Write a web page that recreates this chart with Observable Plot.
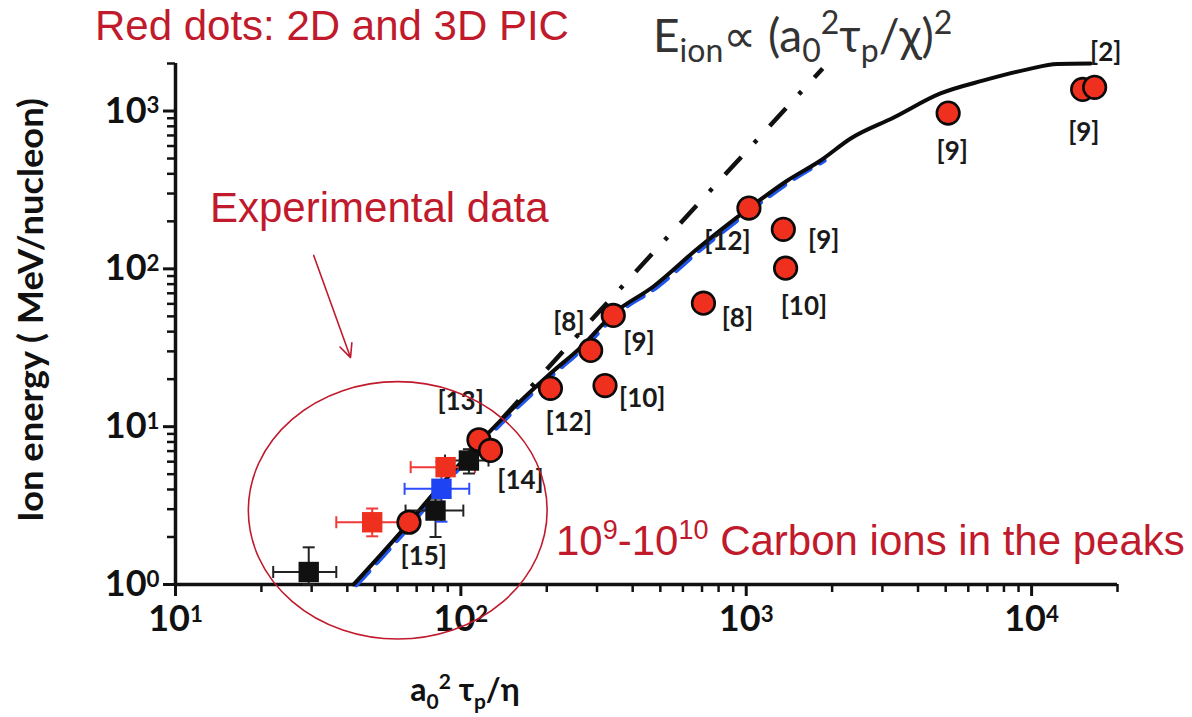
<!DOCTYPE html>
<html>
<head>
<meta charset="utf-8">
<script src="https://cdn.jsdelivr.net/npm/d3@7"></script>
<script src="https://cdn.jsdelivr.net/npm/@observablehq/plot@0.6"></script>
<style>
  html, body { margin: 0; padding: 0; background: #fff; }
  #chart { width: 1192px; height: 717px; }
</style>
</head>
<body>
<div id="chart"></div>
<script>
// 2D and 3D PIC simulation results (red circles): a0² τp/η  vs  ion energy (MeV/nucleon)
const picX = [15100, 16630, 5100, 1022, 1349, 1374, 708, 342, 285, 206, 320, 115.7, 127, 65.8];
const picY = [1371, 1412, 970, 242.6, 178, 101, 60.6, 50.7, 30.4, 17.5, 18.2, 8.26, 7.07, 2.48];

// experimental points (squares) with horizontal and vertical error bars
const expX   = [29.3, 48.9, 81.5, 85.5, 88.4, 106.7];
const expY   = [1.2, 2.48, 2.94, 4.04, 5.54, 6.1];
const expXLo = [22, 36.6, 64, 63.5, 66.7, 88];
const expXHi = [36.6, 61, 102, 107, 112, 125];
const expYLo = [1.0, 2.02, 2.0, 2.5, 4.9, 5.05];
const expYHi = [1.72, 3.03, 3.5, 6.0, 6.3, 7.2];
const expSet = ["A", "B", "A", "C", "B", "A"];

// model curve (solid black) and its companion (dashed blue)
const fitX = [42.1, 61.5, 80.2, 141, 206, 263, 343, 473, 676, 1019, 1395, 1823, 2323, 3289, 4795, 6792, 9680, 12300, 16100];
const fitY = [1.0, 2.14, 3.77, 11.4, 21.7, 31.8, 52.2, 77.3, 134.7, 241, 363, 486, 670, 910, 1292, 1563, 1835, 1985, 2000];
const blueX = [43, 63, 82, 144, 211, 269, 352, 486, 695, 1048, 1432, 1870];
const blueY = [1.0, 2.14, 3.77, 11.4, 21.7, 31.8, 52.2, 77.3, 134.7, 241, 363, 486];

// quadratic scaling E_ion ∝ (a0² τp / χ)² (dash-dot)
const scalingX = [140, 292, 1853];
const scalingY = [11.3, 49.2, 1862];

// reference tags next to the points
const refText = ["[2]", "[9]", "[9]", "[12]", "[9]", "[10]", "[8]", "[8]", "[9]", "[10]", "[12]", "[13]", "[14]", "[15]"];
const refX = [18200, 15240, 5271, 859, 1870, 1593, 931, 239, 421, 432, 239, 99.8, 161.8, 74.1];
const refY = [2350, 731, 549, 147.6, 151.4, 57.2, 48.3, 45.9, 34.3, 15.0, 10.6, 14.3, 4.56, 1.49];

// axis ticks
const xMajor = [10, 100, 1000, 10000];
const xMinor = [20, 30, 40, 50, 60, 70, 80, 90, 200, 300, 400, 500, 600, 700, 800, 900,
                2000, 3000, 4000, 5000, 6000, 7000, 8000, 9000, 20000];
const yMajor = [1, 10, 100, 1000];
const yMinor = [2, 3, 4, 5, 6, 7, 8, 9, 20, 30, 40, 50, 60, 70, 80, 90,
                200, 300, 400, 500, 600, 700, 800, 900, 2000];

// annotations: ellipse bounds around the experimental data and the arrow pointing at it
const circleX = [18.07, 201.4];
const circleY = [0.448, 19.14];
const arrowX = [30.5, 41.05];
const arrowY = [121.6, 27.4];

const setColor = {A: "#111111", B: "#f0301f", C: "#1d43f2"};
const barColor = {A: "#222222", B: "#f03a3a", C: "#2b4cff"};
const annotRed = "#c01a2c";

const exp = expX.map((x, i) => ({
  x, y: expY[i], xlo: expXLo[i], xhi: expXHi[i], ylo: expYLo[i], yhi: expYHi[i], set: expSet[i]
}));
const hCaps = exp.flatMap(d => [{x: d.xlo, y: d.y, set: d.set}, {x: d.xhi, y: d.y, set: d.set}]);
const vCaps = exp.flatMap(d => [{x: d.x, y: d.ylo, set: d.set}, {x: d.x, y: d.yhi, set: d.set}]);
const pic = picX.map((x, i) => ({x, y: picY[i]}));
const fit = fitX.map((x, i) => ({x, y: fitY[i]}));
const blue = blueX.map((x, i) => ({x, y: blueY[i]}));
const scaling = scalingX.map((x, i) => ({x, y: scalingY[i]}));
const refs = refText.map((t, i) => ({t, x: refX[i], y: refY[i]}));

// symbols for error bar caps
const vCap = {draw(ctx, size) { const h = Math.sqrt(size / Math.PI); ctx.moveTo(0, -h); ctx.lineTo(0, h); }};
const hCap = {draw(ctx, size) { const h = Math.sqrt(size / Math.PI); ctx.moveTo(-h, 0); ctx.lineTo(h, 0); }};

const pow = d => "10|" + Math.round(Math.log10(d));

const plot = Plot.plot({
  width: 1192,
  height: 717,
  marginLeft: 175,
  marginRight: 75,
  marginTop: 63,
  marginBottom: 133,
  x: {type: "log", domain: [10, 20000], label: null},
  y: {type: "log", domain: [1, 2000], label: null},
  style: {fontFamily: "Lato, 'Open Sans', sans-serif", background: "#fff", color: "#111", overflow: "visible"},
  marks: [
    Plot.axisX({ticks: xMinor, tickSize: 8, strokeWidth: 2.5, tickFormat: () => "", label: null}),
    Plot.axisX({ticks: xMajor, tickSize: 12, strokeWidth: 3, tickPadding: 9, tickFormat: pow,
                fontSize: 36, fontWeight: "bold", label: null}),
    Plot.axisY({ticks: yMinor, tickSize: 8, strokeWidth: 2.5, tickFormat: () => "", label: null}),
    Plot.axisY({ticks: yMajor, tickSize: 12, strokeWidth: 3, tickPadding: 4, tickFormat: pow,
                fontSize: 36, fontWeight: "bold", label: null}),
    Plot.ruleY([1], {stroke: "#111", strokeWidth: 3.5}),
    Plot.ruleX([10], {stroke: "#111", strokeWidth: 3.5}),

    Plot.line(scaling, {x: "x", y: "y", stroke: "#111", strokeWidth: 4.5,
                        strokeDasharray: "24,19,4,19", strokeLinecap: "butt"}),
    Plot.line(blue, {x: "x", y: "y", stroke: "#1f55ea", strokeWidth: 5.5, strokeDasharray: "18,12", curve: "monotone-x"}),
    Plot.line(fit, {x: "x", y: "y", stroke: "#0b0b0b", strokeWidth: 4, curve: "monotone-x"}),

    Plot.ruleY(exp, {y: "y", x1: "xlo", x2: "xhi", stroke: d => barColor[d.set], strokeWidth: 2}),
    Plot.ruleX(exp, {x: "x", y1: "ylo", y2: "yhi", stroke: d => barColor[d.set], strokeWidth: 2}),
    Plot.dot(hCaps, {x: "x", y: "y", r: 6, symbol: vCap, fill: "none", stroke: d => barColor[d.set], strokeWidth: 2}),
    Plot.dot(vCaps, {x: "x", y: "y", r: 6, symbol: hCap, fill: "none", stroke: d => barColor[d.set], strokeWidth: 2}),
    Plot.dot(exp, {x: "x", y: "y", r: 11.5, symbol: "square", fill: d => setColor[d.set], stroke: "none"}),

    Plot.dot(pic, {x: "x", y: "y", r: 11.3, fill: "#f0301f", stroke: "#0b0b0b", strokeWidth: 2.6}),

    Plot.text(refs, {x: "x", y: "y", text: "t", fontSize: 26, fontWeight: "bold", fill: "#1a1a1a"}),

    Plot.arrow([0], {x1: () => arrowX[0], y1: () => arrowY[0], x2: () => arrowX[1], y2: () => arrowY[1],
                     stroke: annotRed, strokeWidth: 1.6, headLength: 14, headAngle: 50, insetEnd: 0})
  ]
});

document.getElementById("chart").append(plot);

const svg = d3.select(plot);
const sx = plot.scale("x"), sy = plot.scale("y");

// powers of ten as superscripts
svg.selectAll('[aria-label="x-axis tick label"] text, [aria-label="y-axis tick label"] text').each(function () {
  const s = this.textContent;
  if (!s.includes("|")) return;
  const [base, exp] = s.split("|");
  const t = d3.select(this).text(base).attr("font-weight", "bold");
  t.append("tspan").attr("dy", "-0.42em").attr("font-size", "0.62em").text(exp);
});

// rich text helper: parts are {t, size, shift} with shift measured down from the baseline
function richText(x, y, parts, attrs) {
  const t = svg.append("text").attr("x", x).attr("y", y).attr("text-anchor", "start");
  for (const k in attrs) t.attr(k, attrs[k]);
  let cur = 0;
  for (const p of parts) {
    const ts = t.append("tspan").text(p.t);
    const target = p.shift || 0;
    if (target !== cur) ts.attr("dy", target - cur);
    cur = target;
    if (p.size) ts.attr("font-size", p.size);
  }
  return t;
}

// ellipse around the experimental data
const ex0 = sx.apply(circleX[0]), ex1 = sx.apply(circleX[1]);
const ey0 = sy.apply(circleY[0]), ey1 = sy.apply(circleY[1]);
svg.append("ellipse")
  .attr("cx", (ex0 + ex1) / 2).attr("cy", (ey0 + ey1) / 2)
  .attr("rx", Math.abs(ex1 - ex0) / 2).attr("ry", Math.abs(ey1 - ey0) / 2)
  .attr("fill", "none").attr("stroke", annotRed).attr("stroke-width", 1.6);

// red annotations
const redFont = {"font-family": "'Liberation Sans', Arial, sans-serif", "font-size": 42, fill: annotRed};
richText(95, 40, [{t: "Red dots: 2D and 3D PIC"}], redFont);
richText(210, 222, [{t: "Experimental data"}], redFont);
richText(556, 555, [
  {t: "10"}, {t: "9", size: 27, shift: -16}, {t: "-10"}, {t: "10", size: 27, shift: -16},
  {t: " Carbon ions in the peaks"}
], redFont);

// scaling law
richText(653, 52, [
  {t: "E"}, {t: "ion", size: 32, shift: 10}, {t: "\u221D (a"}, {t: "0", size: 32, shift: 10},
  {t: "2", size: 32, shift: -18}, {t: "\u03C4"}, {t: "p", size: 32, shift: 10},
  {t: "/\u03C7)"}, {t: "2", size: 32, shift: -18}
], {"font-family": "Lato, 'Open Sans', 'DejaVu Sans', sans-serif", "font-size": 46, fill: "#333"});

// axis titles
richText(465, 701, [
  {t: "a"}, {t: "0", size: 21, shift: 8}, {t: "2", size: 21, shift: -12}, {t: " \u03C4"},
  {t: "p", size: 21, shift: 8}, {t: "/\u03B7"}
], {"font-family": "Lato, 'Open Sans', 'DejaVu Sans', sans-serif", "font-size": 32, "font-weight": "bold",
    fill: "#111", "text-anchor": "middle"});

svg.append("text")
  .attr("transform", "translate(43,310) rotate(-90)")
  .attr("text-anchor", "middle")
  .attr("font-family", "Lato, 'Open Sans', sans-serif")
  .attr("font-size", 34).attr("font-weight", "bold").attr("fill", "#111")
  .attr("textLength", 424).attr("lengthAdjust", "spacingAndGlyphs")
  .text("Ion energy ( MeV/nucleon)");
</script>
</body>
</html>
